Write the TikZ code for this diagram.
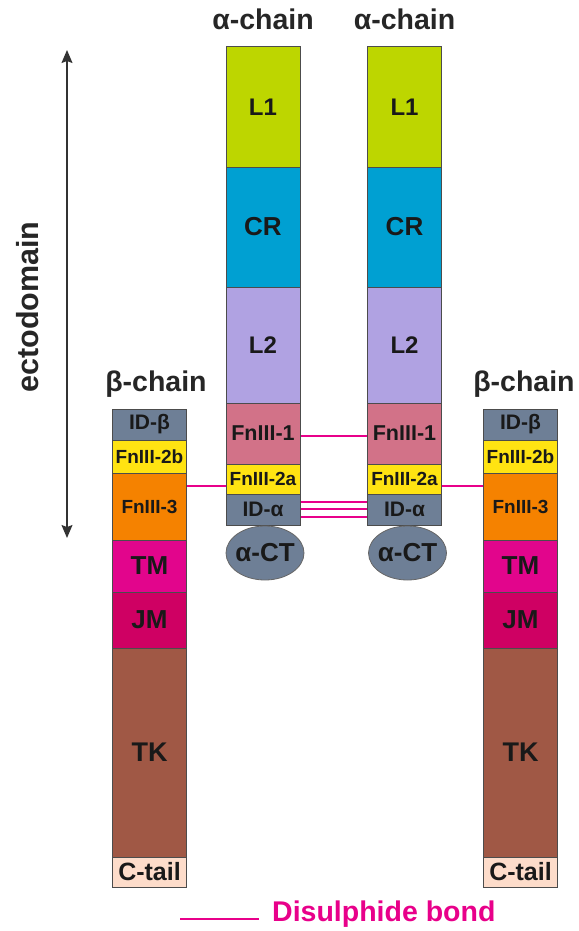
\documentclass[tikz,border=0pt]{standalone}
\usepackage{fontspec}
\setmainfont{Liberation Sans}
\usetikzlibrary{shapes.geometric, arrows.meta}
\definecolor{lone}{HTML}{BDD600}
\definecolor{crblue}{HTML}{00A0D2}
\definecolor{ltwo}{HTML}{B0A2E2}
\definecolor{fnone}{HTML}{D27288}
\definecolor{fntwo}{HTML}{FFE312}
\definecolor{idgrey}{HTML}{6E7F96}
\definecolor{fnthree}{HTML}{F58200}
\definecolor{tmpink}{HTML}{E2058C}
\definecolor{jmred}{HTML}{CF0063}
\definecolor{tkbrown}{HTML}{A05845}
\definecolor{ctail}{HTML}{FDDCCA}
\definecolor{bondpink}{HTML}{E8008A}
\newcommand{\fs}[1]{\fontsize{#1}{#1}\selectfont\bfseries}
\tikzset{
	dom/.style={rectangle, draw=black!70, line width=1pt, minimum width=74pt, inner sep=0pt, text=black!90},
	ct/.style={ellipse, draw=black!60, line width=0.8pt, fill=idgrey, minimum width=78pt, minimum height=54pt, inner xsep=-12pt, inner ysep=-6pt, text=black!90, font={\fs{26}}},
	bond/.style={bondpink, line width=1.2pt},
	title/.style={anchor=base, text=black!85, font={\fs{28.5}}}
}

\begin{document}
\begin{tikzpicture}[x=1pt, y=-1pt]
	\useasboundingbox (0,0) rectangle (578,931);

	\node[title] at (263,30) (A1T) {α-chain};
	\node[title] at (404.5,30) (A2T) {α-chain};
	\node[title] at (156,391) (B1T) {β-chain};
	\node[title] at (524,391) (B2T) {β-chain};

	\node[rectangle] at (263,107) [dom, minimum height=120pt, fill=lone, font={\fs{24}}] (A1L1) {L1};
	\node[rectangle] at (263,227) [dom, minimum height=120pt, fill=crblue, font={\fs{26}}] (A1CR) {CR};
	\node[rectangle] at (263,345) [dom, minimum height=116pt, fill=ltwo, font={\fs{24}}] (A1L2) {L2};
	\node[rectangle] at (263,433.5) [dom, minimum height=61pt, fill=fnone, font={\fs{21.5}}] (A1F1) {FnIII-1};
	\node[rectangle] at (263,479) [dom, minimum height=30pt, fill=fntwo, font={\fs{19}}] (A1F2) {FnIII-2a};
	\node[rectangle] at (263,509.5) [dom, minimum height=31pt, fill=idgrey, font={\fs{21}}] (A1ID) {ID-α};
	\node[ct] at (265,553) (A1CT) {α-CT};

	\node[rectangle] at (404.5,107) [dom, minimum height=120pt, fill=lone, font={\fs{24}}] (A2L1) {L1};
	\node[rectangle] at (404.5,227) [dom, minimum height=120pt, fill=crblue, font={\fs{26}}] (A2CR) {CR};
	\node[rectangle] at (404.5,345) [dom, minimum height=116pt, fill=ltwo, font={\fs{24}}] (A2L2) {L2};
	\node[rectangle] at (404.5,433.5) [dom, minimum height=61pt, fill=fnone, font={\fs{21.5}}] (A2F1) {FnIII-1};
	\node[rectangle] at (404.5,479) [dom, minimum height=30pt, fill=fntwo, font={\fs{19}}] (A2F2) {FnIII-2a};
	\node[rectangle] at (404.5,509.5) [dom, minimum height=31pt, fill=idgrey, font={\fs{21}}] (A2ID) {ID-α};
	\node[ct] at (407.5,553) (A2CT) {α-CT};

	\node[rectangle] at (149.5,424.5) [dom, minimum height=31pt, fill=idgrey, font={\fs{21}}] (B1ID) {ID-β};
	\node[rectangle] at (149.5,456.5) [dom, minimum height=33pt, fill=fntwo, font={\fs{19}}] (B1F2) {FnIII-2b};
	\node[rectangle] at (149.5,506.5) [dom, minimum height=67pt, fill=fnthree, font={\fs{19}}] (B1F3) {FnIII-3};
	\node[rectangle] at (149.5,566) [dom, minimum height=52pt, fill=tmpink, font={\fs{26}}] (B1TM) {TM};
	\node[rectangle] at (149.5,620) [dom, minimum height=56pt, fill=jmred, font={\fs{26}}] (B1JM) {JM};
	\node[rectangle] at (149.5,752.5) [dom, minimum height=209pt, fill=tkbrown, font={\fs{27}}] (B1TK) {TK};
	\node[rectangle] at (149.5,872) [dom, minimum height=30pt, fill=ctail, font={\fs{25}}] (B1CT) {C-tail};

	\node[rectangle] at (520.5,424.5) [dom, minimum height=31pt, fill=idgrey, font={\fs{21}}] (B2ID) {ID-β};
	\node[rectangle] at (520.5,456.5) [dom, minimum height=33pt, fill=fntwo, font={\fs{19}}] (B2F2) {FnIII-2b};
	\node[rectangle] at (520.5,506.5) [dom, minimum height=67pt, fill=fnthree, font={\fs{19}}] (B2F3) {FnIII-3};
	\node[rectangle] at (520.5,566) [dom, minimum height=52pt, fill=tmpink, font={\fs{26}}] (B2TM) {TM};
	\node[rectangle] at (520.5,620) [dom, minimum height=56pt, fill=jmred, font={\fs{26}}] (B2JM) {JM};
	\node[rectangle] at (520.5,752.5) [dom, minimum height=209pt, fill=tkbrown, font={\fs{27}}] (B2TK) {TK};
	\node[rectangle] at (520.5,872) [dom, minimum height=30pt, fill=ctail, font={\fs{25}}] (B2CT) {C-tail};

	\draw[bond] (A1F1.east |- 0,436) -- (A2F1.west |- 0,436);
	\draw[bond] (B1F3.east |- 0,486) -- (A1F2.west |- 0,486);
	\draw[bond] (A2F2.east |- 0,486) -- (B2F3.west |- 0,486);
	\foreach \y in {502,509,517}
		\draw[bond] (A1ID.east |- 0,\y) -- (A2ID.west |- 0,\y);

	\coordinate (ectotop) at (67,50);
	\coordinate (ectobot) at (67,538);
	\draw[{Stealth[length=13pt,width=11pt,inset=2pt]}-{Stealth[length=13pt,width=11pt,inset=2pt]}, line width=1.2pt, black!80] (ectotop) -- (ectobot);
	\node[rotate=90, text=black!85, font={\fs{30.5}}] at (28,307) (ecto) {ectodomain};

	\coordinate (keyl) at (180,919);
	\coordinate (keyr) at (259,919);
	\draw[bond] (keyl) -- (keyr);
	\node[anchor=west, inner sep=0pt, text=bondpink, font={\fs{28.5}}] at (272,914) (keytext) {Disulphide bond};
\end{tikzpicture}
\end{document}
